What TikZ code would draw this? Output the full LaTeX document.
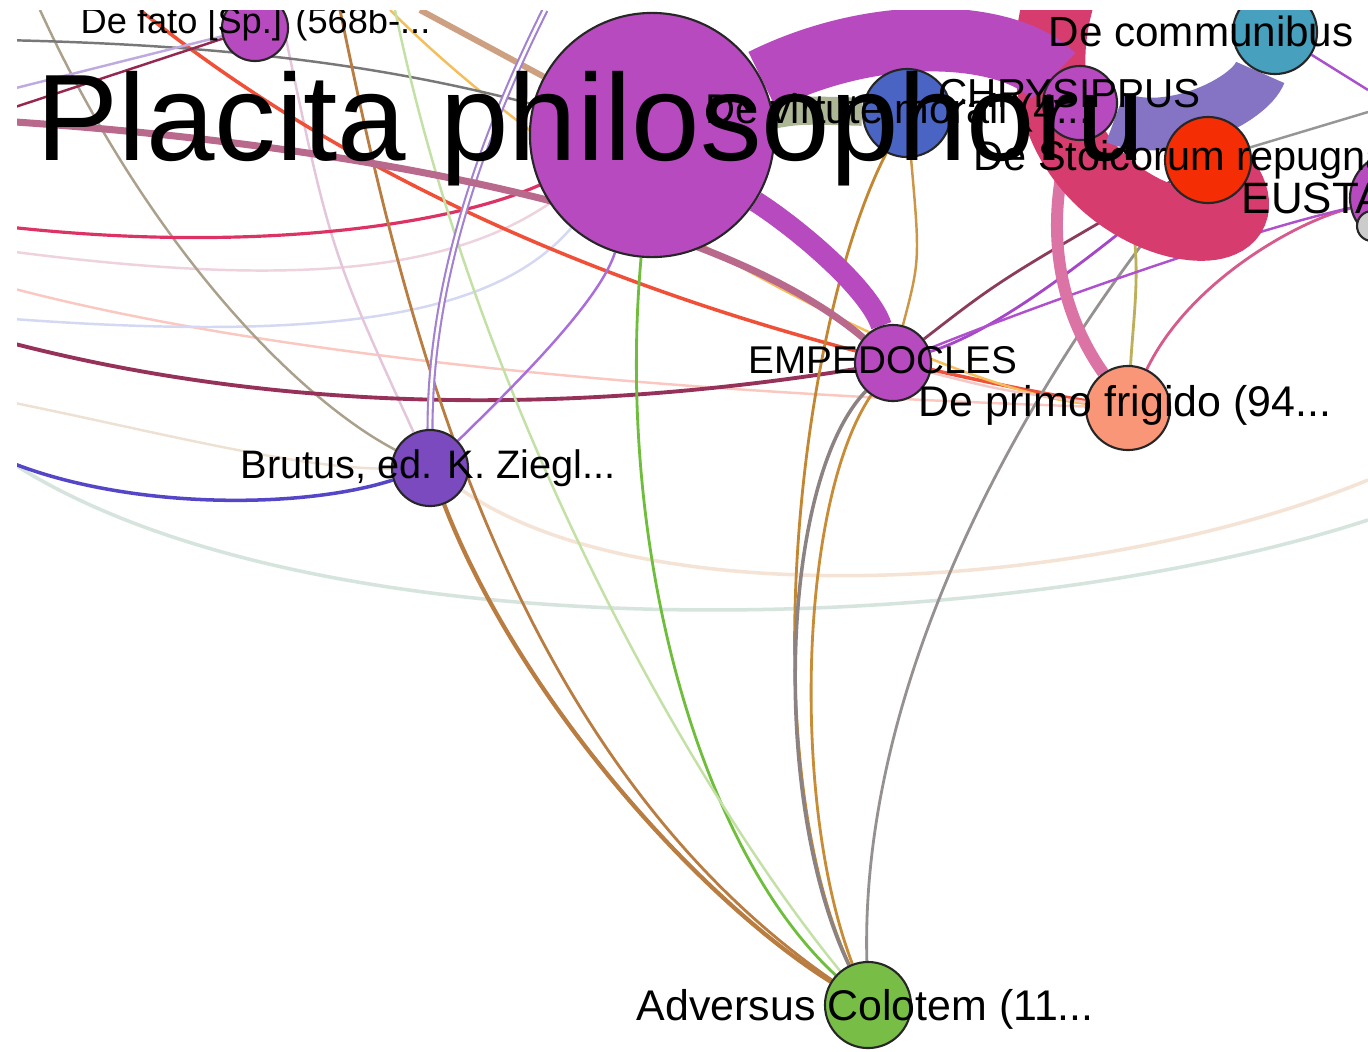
\documentclass[tikz,border=0pt]{standalone}
\usepackage{fontspec}
\setmainfont{Liberation Sans}
\usetikzlibrary{positioning}
\pgfdeclarelayer{paper}
\pgfdeclarelayer{bg}
\pgfsetlayers{paper,bg,main}

\definecolor{plum}{RGB}{183,74,190}
\definecolor{violetn}{RGB}{122,74,190}
\definecolor{bluen}{RGB}{74,100,196}
\definecolor{tealn}{RGB}{70,160,190}
\definecolor{redn}{RGB}{245,45,5}
\definecolor{salmon}{RGB}{250,150,120}
\definecolor{greenn}{RGB}{120,190,70}
\definecolor{crimson}{RGB}{215,60,110}
\definecolor{lavender}{RGB}{132,116,195}
\definecolor{rosey}{RGB}{220,115,165}
\definecolor{mauve}{RGB}{185,105,140}
\definecolor{tanc}{RGB}{205,160,130}
\definecolor{brownc}{RGB}{185,125,65}
\definecolor{olivec}{RGB}{172,182,148}

\tikzset{
  doc/.style={circle, draw=black!85, line width=0.6pt, inner sep=0pt, minimum size=#1},
  lbl/.style={anchor=base west, inner sep=0pt, font=\fontsize{#1pt}{#1pt}\selectfont},
  link/.style={line width=0.7pt},
  band/.style={line cap=butt}
}

\begin{document}
\begin{tikzpicture}[x=0.01cm, y=-0.01cm]
	\begin{pgfonlayer}{paper}
		\fill[white] (0,0) rectangle (1368,1051);
	\end{pgfonlayer}
	\useasboundingbox (0,0) rectangle (1368,1051);
	\clip (17,10) rectangle (1368,1051);

	% Documents and authors
	\node[doc=2.44cm, fill=plum] (placita) at (652,135) {};
	\node[doc=0.66cm, fill=plum] (defato) at (255,28) {};
	\node[doc=0.88cm, fill=bluen] (virt) at (907,113) {};
	\node[doc=0.74cm, fill=plum] (chrys) at (1080,103) {};
	\node[doc=0.84cm, fill=tealn] (comm) at (1275,32) {};
	\node[doc=0.86cm, fill=redn] (stoic) at (1208,160) {};
	\node[doc=0.90cm, fill=plum] (eust) at (1395,198) {};
	\node[doc=0.30cm, fill=black!20] (small) at (1372,226) {};
	\node[doc=0.76cm, fill=plum] (emp) at (893,363) {};
	\node[doc=0.84cm, fill=salmon] (frig) at (1128,408) {};
	\node[doc=0.76cm, fill=violetn] (brut) at (430,468) {};
	\node[doc=0.86cm, fill=greenn] (adv) at (868,1005) {};

	% Free ends beyond the frame
	\coordinate (w1) at (0,121);   \coordinate (w2) at (0,226);
	\coordinate (w3) at (0,250);   \coordinate (w4) at (0,285);
	\coordinate (w5) at (0,318);   \coordinate (w6) at (0,340);
	\coordinate (w7) at (0,458);   \coordinate (w8) at (0,455);
	\coordinate (w9) at (1368,520); \coordinate (w10) at (1368,480);
	\coordinate (w11) at (140,10); \coordinate (w12) at (340,10);
	\coordinate (w13) at (395,10); \coordinate (w14) at (40,10);
	\coordinate (w15) at (0,400);  \coordinate (w16) at (390,10);
	\coordinate (w17) at (545,10); \coordinate (w18) at (0,40);
	\coordinate (w19) at (0,112);  \coordinate (w20) at (0,92);
	\coordinate (w21) at (420,10); \coordinate (w23) at (1368,90);
	\coordinate (w24) at (1368,112); \coordinate (w27) at (280,10);
	\coordinate (w28) at (1065,-20);

	\begin{pgfonlayer}{bg}
	\begin{scope}
		\clip (17,10) rectangle (1368,1051);
		% Thin links
		\draw[link, color={rgb,255:red,238;green,210;blue,222}] (w3) .. controls (300,290) and (450,270) .. (placita);
		\draw[link, color={rgb,255:red,250;green,200;blue,192}] (w4) .. controls (350,380) and (900,400) .. (frig);
		\draw[link, color={rgb,255:red,212;green,216;blue,242}] (w5) .. controls (350,345) and (500,310) .. (placita);
		\draw[link, line width=1pt, color={rgb,255:red,214;green,228;blue,222}] (w8) .. controls (300,660) and (1000,640) .. (w9);
		\draw[link, line width=1pt, color={rgb,255:red,245;green,228;blue,214}] (brut) .. controls (650,620) and (1100,590) .. (w10);
		\draw[link, color={rgb,255:red,238;green,225;blue,212}] (w15) .. controls (150,430) and (300,470) .. (brut);
		\draw[link, color={rgb,255:red,228;green,198;blue,220}] (w27) .. controls (330,250) .. (brut);
		\draw[link, color={rgb,255:red,170;green,160;blue,140}] (w14) .. controls (150,250) and (300,400) .. (brut);
		\draw[link, line width=0.9pt, color={rgb,255:red,220;green,50;blue,100}] (w2) .. controls (250,255) and (450,225) .. (placita);
		\draw[link, line width=1.1pt, color={rgb,255:red,150;green,50;blue,90}] (w6) .. controls (300,420) and (600,410) .. (emp);
		\draw[link, line width=1pt, color={rgb,255:red,85;green,70;blue,200}] (w7) .. controls (120,510) and (300,510) .. (brut);
		\draw[link, line width=1pt, color={rgb,255:red,240;green,80;blue,55}] (w11) .. controls (450,260) and (850,360) .. (frig);
		\draw[link, color={rgb,255:red,245;green,190;blue,90}] (w16) .. controls (600,220) and (950,390) .. (frig);
		\draw[link, color={rgb,255:red,120;green,120;blue,120}] (w18) .. controls (250,45) and (400,70) .. (placita);
		\draw[link, color={rgb,255:red,150;green,40;blue,80}] (w19) -- (defato);
		\draw[link, color={rgb,255:red,190;green,170;blue,225}] (w20) -- (defato);
		\draw[link, line width=1.7pt, color=tanc] (w21) -- (placita);
		\draw[link, line width=0.8pt, color={rgb,255:red,110;green,190;blue,60}] (placita) .. controls (615,550) and (700,850) .. (adv);
		\draw[link, line width=1.2pt, color=brownc] (brut) .. controls (520,700) and (700,900) .. (adv);
		\draw[link, line width=0.8pt, color=brownc] (w12) .. controls (400,300) and (500,750) .. (adv);
		\draw[link, color={rgb,255:red,195;green,225;blue,165}] (w13) .. controls (480,420) and (700,800) .. (adv);
		\draw[link, line width=0.6pt, violetn!70, double=white, double distance=0.8pt] (w17) .. controls (470,160) and (430,300) .. (brut);
		\draw[link, color={rgb,255:red,170;green,110;blue,220}] (brut) .. controls (520,380) and (600,300) .. (placita);
		\draw[link, line width=0.8pt, color={rgb,255:red,195;green,135;blue,50}] (virt) .. controls (800,320) and (750,750) .. (adv);
		\draw[link, line width=0.8pt, color={rgb,255:red,200;green,140;blue,55}] (emp) .. controls (800,500) and (790,800) .. (adv);
		\draw[link, line width=1pt, color={rgb,255:red,140;green,130;blue,130}] (emp) .. controls (780,480) and (770,800) .. (adv);
		\draw[link, line width=0.8pt, color={rgb,255:red,150;green,145;blue,145}] (stoic) .. controls (1000,420) and (860,700) .. (adv);
		\draw[link, color={rgb,255:red,205;green,150;blue,70}] (emp) .. controls (920,260) .. (virt);
		\draw[link, line width=0.8pt, color={rgb,255:red,190;green,175;blue,90}] (frig) .. controls (1135,290) and (1150,220) .. (chrys);
		\draw[link, line width=0.8pt, color={rgb,255:red,215;green,90;blue,140}] (frig) .. controls (1190,280) and (1300,220) .. (eust);
		\draw[link, line width=0.8pt, color={rgb,255:red,165;green,70;blue,200}] (emp) .. controls (1000,330) and (1100,250) .. (stoic);
		\draw[link, color={rgb,255:red,175;green,80;blue,205}] (emp) .. controls (1050,300) and (1250,230) .. (eust);
		\draw[link, line width=0.8pt, color={rgb,255:red,140;green,60;blue,90}] (emp) .. controls (1000,280) .. (stoic);
		\draw[link, color={rgb,255:red,245;green,200;blue,200}] (emp) .. controls (1000,390) .. (frig);
		\draw[link, color={rgb,255:red,170;green,80;blue,205}] (comm) -- (w23);
		\draw[link, color={rgb,255:red,150;green,150;blue,150}] (stoic) -- (w24);
		\draw[link, line width=2pt, color=mauve] (w1) .. controls (300,140) and (700,200) .. (emp);

		% Heavy links
		\draw[band, line width=3.4pt, color=rosey] (chrys) .. controls (1035,260) and (1080,340) .. (frig);
		\draw[band, line width=20pt, color=crimson] (w28) .. controls (975,235) and (1330,285) .. (stoic.center);
		\draw[band, line width=15pt, color=lavender] (chrys) .. controls (1170,140) and (1250,100) .. (comm);
		\draw[band, line width=8pt, color=olivec] (placita) .. controls (800,110) .. (virt);
		\draw[band, line width=18pt, color=plum] (placita) .. controls (880,22) and (1010,32) .. (chrys);
		\draw[band, line width=6pt, color=plum] (placita) .. controls (800,230) and (870,290) .. (emp);
	\end{scope}
	\end{pgfonlayer}

	% Labels
	\node[lbl=10.3] (lfato) at (80,33) {De fato [Sp.] (568b-...};
	\node[lbl=11.8] (lvirt) at (705,123) {De virtute morali (4...};
	\node[lbl=11.5] (lchrys) at (938,107) {CHRYSIPPUS};
	\node[lbl=12] (lcomm) at (1048,46) {De communibus};
	\node[lbl=11.8] (lstoic) at (973,170) {De Stoicorum repugnantiis};
	\node[lbl=12.5] (leust) at (1241,213) {EUSTATHIUS};
	\node[lbl=11] (lemp) at (748,373) {EMPEDOCLES};
	\node[lbl=12.2] (lfrig) at (918,416) {De primo frigido (94...};
	\node[lbl=11.3] (lbrut) at (240,478) {Brutus, ed. K. Ziegl...};
	\node[lbl=12.2] (ladv) at (636,1020) {Adversus Colotem (11...};
	\node[lbl=35] (lplacita) at (36,160) {Placita philosophoru};
\end{tikzpicture}
\end{document}
